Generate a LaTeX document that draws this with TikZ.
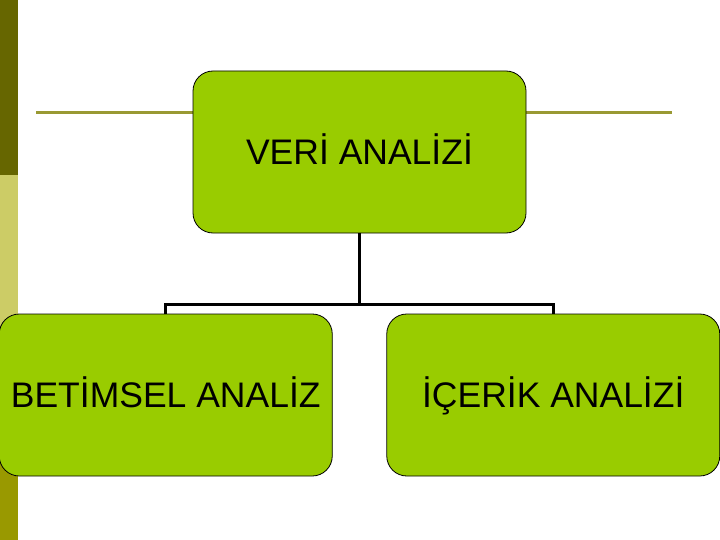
\documentclass[tikz,border=0pt]{standalone}
\usepackage{fontspec}
\setmainfont{Liberation Sans}
\usepackage{xcolor}
\usepackage{tikz}
\definecolor{boxgreen}{HTML}{99CC00}
\definecolor{stripedark}{HTML}{666600}
\definecolor{stripepale}{HTML}{CCCC66}
\definecolor{stripeolive}{HTML}{999900}
\definecolor{ruleolive}{HTML}{999933}
\tikzset{
  chartbox/.style = {shape=rectangle, rounded corners=20pt,
          draw=black, line width=0.8pt, fill=boxgreen, align=center,
          minimum width=333pt, minimum height=162pt, inner sep=0pt,
          text height=25pt, text depth=-3pt,
          font=\fontsize{35.5}{42}\selectfont},
  topbox/.style   = {chartbox},
  subbox/.style   = {chartbox}
}

\begin{document}
\begin{tikzpicture}
  [
    x=1pt, y=1pt,
    grow                    = down,
    sibling distance        = 387.5pt,
    level distance          = 243pt,
    edge from parent/.style = {draw, line width=2.6pt},
    edge from parent path   = {(\tikzparentnode.south) -- ++(0,-71)
                               -| (\tikzchildnode.north)}
  ]
  \useasboundingbox (0,0) rectangle (720,-540);
  % side stripe and title rule
  \fill [stripedark]  (0,0)    rectangle (18,-175);
  \fill [stripepale]  (0,-175) rectangle (18,-450);
  \fill [stripeolive] (0,-450) rectangle (18,-540);
  \draw [ruleolive, line width=3pt] (36,-113) -- (672,-113);
  \node [topbox] (veri) at (359.5,-152) {VERİ ANALİZİ}
    child { node [subbox] (betimsel) {BETİMSEL ANALİZ} }
    child { node [subbox] (icerik) {İÇERİK ANALİZİ} };
\end{tikzpicture}
\end{document}
